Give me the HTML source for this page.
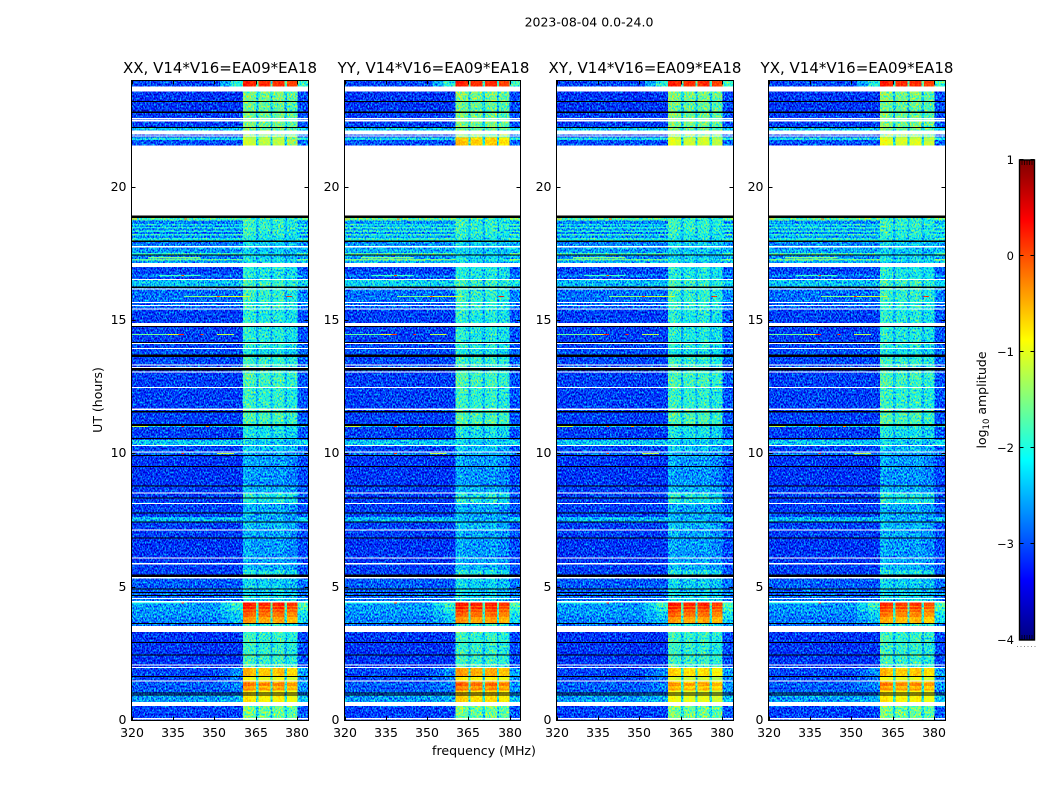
<!DOCTYPE html>
<html lang="en">
<head>
<meta charset="utf-8">
<title>2023-08-04 0.0-24.0 amplitude waterfall</title>
<style>
  html, body { margin: 0; padding: 0; background: #fff; }
  body { width: 1050px; height: 800px; overflow: hidden; }
  svg { display: block; }
  text { font-family: "DejaVu Sans", "Liberation Sans", sans-serif; fill: #000; }
</style>
</head>
<body>
<svg id="figure" xmlns="http://www.w3.org/2000/svg" width="1050" height="800" viewBox="0 0 1050 800">
  <defs>
    <filter id="grain-weak-signal" x="0" y="0" width="100%" height="100%" color-interpolation-filters="sRGB">
      <feTurbulence type="fractalNoise" baseFrequency="0.66 0.5" numOctaves="2" seed="7" result="noise"/>
      <feColorMatrix in="noise" type="matrix" values="2 0 0 0 -0.5  2 0 0 0 -0.5  2 0 0 0 -0.5  0 0 0 0 1" result="speck"/>
      <feComposite in="SourceGraphic" in2="speck" operator="arithmetic" k1="0" k2="1" k3="0.3" k4="-0.15" result="levels"/>
      <feComponentTransfer in="levels">
        <feFuncR class="jet-r" type="table"/>
        <feFuncG class="jet-g" type="table"/>
        <feFuncB class="jet-b" type="table"/>
      </feComponentTransfer>
    </filter>
    <filter id="grain-strong-signal" x="0" y="0" width="100%" height="100%" color-interpolation-filters="sRGB">
      <feTurbulence type="fractalNoise" baseFrequency="0.66 0.5" numOctaves="2" seed="11" result="noise"/>
      <feColorMatrix in="noise" type="matrix" values="2 0 0 0 -0.5  2 0 0 0 -0.5  2 0 0 0 -0.5  0 0 0 0 1" result="speck"/>
      <feComposite in="SourceGraphic" in2="speck" operator="arithmetic" k1="0" k2="1" k3="0.08" k4="-0.04" result="levels"/>
      <feComponentTransfer in="levels">
        <feFuncR class="jet-r" type="table"/>
        <feFuncG class="jet-g" type="table"/>
        <feFuncB class="jet-b" type="table"/>
      </feComponentTransfer>
    </filter>
    <linearGradient id="jet-gradient" x1="0" y1="1" x2="0" y2="0"></linearGradient>
  </defs>
  <rect x="0" y="0" width="1050" height="800" fill="#fff"/>
  <text x="589" y="26.5" font-size="12.5" text-anchor="middle">2023-08-04 0.0-24.0</text>
  <text transform="translate(102,400) rotate(-90)" font-size="12.5" text-anchor="middle">UT (hours)</text>
  <text x="484" y="755" font-size="12.6" text-anchor="middle">frequency (MHz)</text>
  <text transform="translate(986,400) rotate(-90)" font-size="12.5" text-anchor="middle">log<tspan font-size="8.5" dy="3">10</tspan><tspan dy="-3"> amplitude</tspan></text>
  <g id="panels"></g>
  <g id="colorbar"></g>
</svg>
<script>
// ---- chart data (log10 amplitude, hours, MHz) ----
const panelTitles = ["XX, V14*V16=EA09*EA18", "YY, V14*V16=EA09*EA18", "XY, V14*V16=EA09*EA18", "YX, V14*V16=EA09*EA18"];
const xTicks = [320, 335, 350, 365, 380];
const yTicks = [0, 5, 10, 15, 20];
const colorbarTicks = [-4, -3, -2, -1, 0, 1];

// channel groups: edges in MHz, zone (0 out of band, 5 ramp, 1 band edge, 2 in band, 4 notch, 3 upper edge), level offset
const freqEdges = [320, 330, 340, 352, 356, 360.4, 363, 365.1, 365.9, 368, 370.2, 371, 373, 375.4, 376.2, 378, 380, 384];
const channelZones = [0, 0, 0, 5, 1, 2, 2, 4, 2, 2, 4, 2, 2, 4, 2, 2, 3];
const channelOffsets = [0, 0.02, 0, 0, 0, 0.12, 0.02, 0, 0, 0, 0, -0.02, 0.05, 0, -0.1, -0.1, 0.12];

// [hour from, hour to, out-of-band level, in-band level, band-edge level (optional)]
const timeRows = [
  [23.775, 24, -3.05, 0.15, -2.0],
  [23.23, 23.775, -3.15, -1.55],
  [22.84, 23.23, -3.15, -1.65],
  [22.5, 22.84, -3.1, -1.6],
  [22.26, 22.5, -3.1, -1.55],
  [22.125, 22.26, -2.4, -1.6],
  [21.86, 22.125, -3.05, -1.45],
  [21.76, 21.86, -2.2, -1.25],
  [21.56, 21.76, -3.0, -1.2],
  [18.75, 18.9, -1.8, -1.85],
  [18.625, 18.75, -2.75, -1.95],
  [18.56, 18.625, -2.2, -1.9],
  [18.5, 18.56, -2.7, -1.95],
  [18.45, 18.5, -2.1, -1.9],
  [18.375, 18.45, -2.7, -1.95],
  [18.31, 18.375, -2.1, -1.95],
  [18.25, 18.31, -2.8, -2.0],
  [18.19, 18.25, -2.0, -2.0],
  [18.09, 18.19, -2.7, -2.05],
  [18.0, 18.09, -2.1, -2.1],
  [17.81, 18.0, -2.8, -2.3],
  [17.525, 17.81, -2.65, -2.35],
  [17.475, 17.525, -1.9, -2.2],
  [17.31, 17.475, -2.75, -2.3],
  [17.25, 17.31, -1.7, -2.05],
  [17.0, 17.25, -2.6, -2.3],
  [16.725, 17.0, -3.05, -2.1],
  [16.64, 16.725, -2.75, -2.1],
  [16.54, 16.64, -3.05, -2.1],
  [16.225, 16.54, -2.4, -1.9],
  [15.69, 16.225, -2.85, -1.95],
  [15.45, 15.69, -2.9, -2.0],
  [14.9, 15.45, -3.1, -2.05],
  [14.19, 14.9, -3.1, -2.05],
  [13.96, 14.19, -3.05, -2.05],
  [13.725, 13.96, -3.0, -2.15],
  [13.35, 13.725, -3.05, -1.95],
  [13.05, 13.35, -3.05, -1.95],
  [12.5, 13.05, -3.1, -1.85],
  [11.69, 12.5, -3.1, -1.95],
  [11.1, 11.69, -3.1, -1.8],
  [11.0, 11.1, -2.3, -2.0],
  [10.6, 11.0, -3.1, -2.15],
  [10.51, 10.6, -3.05, -2.2],
  [10.34, 10.51, -2.35, -2.3],
  [10.09, 10.34, -3.05, -2.4],
  [9.95, 10.09, -2.85, -2.55],
  [9.54, 9.95, -3.15, -2.6],
  [8.81, 9.54, -3.15, -2.65],
  [8.55, 8.81, -3.1, -2.5],
  [8.15, 8.55, -3.1, -2.1],
  [7.8, 8.15, -3.1, -2.55],
  [7.64, 7.8, -3.05, -2.55],
  [7.46, 7.64, -2.45, -2.5],
  [7.16, 7.46, -3.1, -2.45],
  [6.86, 7.16, -3.1, -2.55],
  [6.11, 6.86, -3.15, -2.6],
  [5.85, 6.11, -3.15, -2.55],
  [5.64, 5.85, -3.1, -2.5],
  [5.375, 5.64, -3.1, -2.1],
  [4.94, 5.375, -2.95, -2.3],
  [4.7, 4.94, -2.9, -2.3],
  [4.44, 4.7, -2.85, -2.2],
  [4.3, 4.44, -2.6, 0.2, -1.9],
  [4.25, 4.3, -2.6, -0.1, -1.8],
  [4.19, 4.25, -2.6, 0.15, -2.1],
  [4.12, 4.19, -2.6, -0.15, -1.9],
  [4.06, 4.12, -2.6, 0.0, -2.2],
  [3.875, 4.06, -2.65, -0.2, -2.3],
  [3.65, 3.875, -2.75, -0.45, -2.4],
  [3.54, 3.65, -2.85, -2.0],
  [2.95, 3.54, -3.15, -1.9],
  [2.46, 2.95, -3.15, -1.95],
  [2.0, 2.46, -3.15, -1.9],
  [1.675, 2.0, -3.05, -0.6, -2.7],
  [1.5, 1.675, -3.05, -1.0, -2.8],
  [1.4, 1.5, -3.0, -0.5, -2.8],
  [1.3, 1.4, -2.9, -0.25, -2.7],
  [1.2, 1.3, -3.0, -0.55, -2.8],
  [1.125, 1.2, -2.9, -0.35, -2.7],
  [0.94, 1.125, -2.9, -0.85],
  [0.69, 0.94, -2.6, -0.85, -2.5],
  [0.46, 0.69, -3.05, -1.55],
  [0, 0.46, -3.1, -1.6]
];

// [hour from, hour to, base offset per panel x4, in-band offset per panel x4]
const panelAdjustments = [
  [21.56, 21.94, 0, 0, 0, 0, 0, 0.55, 0.1, 0.15],
  [17.0, 19.0, 0, 0.15, 0.05, 0.1, 0, 0, 0, 0],
  [16.225, 16.54, 0, 0.12, -0.05, 0, 0, 0, 0, 0],
  [3.65, 4.44, 0, 0, 0, -0.05, 0, 0.02, 0, -0.1],
  [0.69, 2.0, 0, 0, 0, 0, 0, 0.12, -0.15, -0.02]
];

// [hour from, hour to, MHz from, MHz to, level]
const hotStreaks = [
  [18.79, 18.83, 339, 340, -0.1],
  [18.79, 18.83, 320, 322, -0.6],
  [17.33, 17.38, 326, 345, -1.5],
  [16.67, 16.71, 330, 345, -1.8],
  [16.67, 16.71, 338, 339, 0.1],
  [15.88, 15.92, 339, 350, -1.5],
  [15.88, 15.92, 350, 363, -1.1],
  [15.88, 15.92, 351, 352, 0],
  [15.88, 15.92, 376, 378, 0.2],
  [14.45, 14.49, 320, 333, -1.6],
  [14.45, 14.49, 333, 337, -1.0],
  [14.45, 14.49, 337, 339, 0.2],
  [14.45, 14.49, 345, 346, 0.1],
  [14.45, 14.49, 351, 357, -1.2],
  [11.01, 11.05, 320, 326, -1.2],
  [11.01, 11.05, 338, 339, 0],
  [11.01, 11.05, 347, 348, -0.5],
  [9.99, 10.03, 338, 339, 0.2],
  [9.99, 10.03, 351, 357, -1.2],
  [4.38, 4.42, 320, 340, -2.0],
  [4.38, 4.42, 338, 339, 0.1]
];

// flagged time ranges: no data (white) and zero amplitude (black)
const whiteGaps = [
  [23.59, 23.775], [22.54, 22.59], [22.47, 22.51], [21.975, 22.125], [21.9, 21.94], [18.94, 21.56],
  [17.74, 17.8], [17.0, 17.15], [16.54, 16.56], [16.16, 16.2], [15.66, 15.69], [15.54, 15.575], [15.41, 15.45],
  [14.79, 14.9], [14.12, 14.16], [13.925, 13.96], [13.31, 13.35], [13.225, 13.26], [13.05, 13.09], [12.475, 12.51],
  [11.65, 11.7], [10.29, 10.325], [10.05, 10.09], [8.51, 8.55], [8.11, 8.15], [7.125, 7.16], [6.075, 6.11],
  [5.85, 5.9], [5.325, 5.375], [4.55, 4.59], [4.425, 4.475], [3.31, 3.54], [2.06, 2.1], [1.96, 2.0], [1.46, 1.5],
  [0.55, 0.69], [0.04, 0.09]
];
const blackGaps = [
  [23.19, 23.23], [22.78, 22.84], [22.22, 22.26], [18.85, 18.94], [17.95, 18.0], [17.44, 17.47], [16.225, 16.275],
  [14.75, 14.79], [14.16, 14.2], [13.625, 13.725], [13.125, 13.215], [11.55, 11.6], [11.05, 11.11], [10.56, 10.6],
  [9.91, 9.95], [9.5, 9.54], [8.775, 8.81], [8.325, 8.36], [7.76, 7.8], [7.425, 7.46], [6.825, 6.86], [5.375, 5.475],
  [4.91, 4.95], [4.8, 4.825], [4.66, 4.7], [3.61, 3.66], [2.91, 2.95], [2.44, 2.475], [1.64, 1.675], [1.01, 1.05], [0.94, 0.975]
];

// ---- layout ----
const SVG_NS = "http://www.w3.org/2000/svg";
const panelLefts = [131.5, 344.5, 556.5, 768.5];
const panelRights = [308.5, 520.5, 733.5, 945.5];
const plotTop = 80.5, plotBottom = 720.5;
const freqMin = 320, freqMax = 384, hourMin = 0, hourMax = 24;
const levelMin = -4, levelMax = 1;
const strongSignalLevel = -1.3;
const cbLeft = 1019.5, cbRight = 1034.5, cbTop = 160, cbBottom = 640;

function xScale(panel, mhz) {
  return panelLefts[panel] + (mhz - freqMin) / (freqMax - freqMin) * (panelRights[panel] - panelLefts[panel]);
}
function yScale(hour) {
  return plotBottom - (hour - hourMin) / (hourMax - hourMin) * (plotBottom - plotTop);
}
function cbScale(level) {
  return cbBottom - (level - levelMin) / (levelMax - levelMin) * (cbBottom - cbTop);
}
function clamp01(v) { return Math.max(0, Math.min(1, v)); }
function levelFraction(level) {
  return clamp01((level - levelMin) / (levelMax - levelMin));
}
function jetChannels(t) {
  return [
    clamp01(Math.min(4 * t - 1.5, -4 * t + 4.5)),
    clamp01(Math.min(4 * t - 0.5, -4 * t + 3.5)),
    clamp01(Math.min(4 * t + 0.5, -4 * t + 2.5))
  ];
}
function jet(level) {
  const c = jetChannels(levelFraction(level));
  return "rgb(" + Math.round(c[0] * 255) + "," + Math.round(c[1] * 255) + "," + Math.round(c[2] * 255) + ")";
}
// cells carry the level as grey; the SVG filter adds grain and then applies the jet table
function levelGrey(level) {
  const v = Math.round(levelFraction(level) * 255);
  return "rgb(" + v + "," + v + "," + v + ")";
}
function el(tag, attrs, parent) {
  const node = document.createElementNS(SVG_NS, tag);
  for (const key in attrs) node.setAttribute(key, attrs[key]);
  parent.appendChild(node);
  return node;
}
function installJetTables() {
  const names = ["jet-r", "jet-g", "jet-b"];
  names.forEach(function (name, channel) {
    const values = [];
    for (let i = 0; i <= 8; i++) values.push(jetChannels(i / 8)[channel].toFixed(4));
    document.querySelectorAll("." + name).forEach(function (node) {
      node.setAttribute("tableValues", values.join(" "));
    });
  });
}
function adjustment(panel, midHour) {
  let base = 0, inband = 0;
  for (const a of panelAdjustments) {
    if (midHour >= a[0] && midHour < a[1]) {
      base += a[2 + panel];
      inband += a[6 + panel];
    }
  }
  return { base: base, inband: inband };
}
function channelLevel(row, col, adj) {
  const zone = channelZones[col];
  const base = row[2] + adj.base;
  const inband = row[3] + adj.inband;
  const edge = row[4] !== undefined ? row[4] : base;
  let source = base;
  if (zone === 2) source = inband;
  else if (zone === 4) source = 0.3 * inband - 1.85;
  else if (zone === 1 || zone === 3) source = edge;
  else if (zone === 5) source = (base + edge) / 2;
  return source + channelOffsets[col];
}

function drawPanel(panel) {
  const root = document.getElementById("panels");
  const group = el("g", {}, root);
  
  

  const heat = el("g", { filter: "url(#grain-weak-signal)", "shape-rendering": "crispEdges" }, group);
  
  
  const heatStrong = el("g", { filter: "url(#grain-strong-signal)", "shape-rendering": "crispEdges" }, group);
  
  

  el("rect", {
    x: xScale(panel, freqMin), y: yScale(hourMax),
    width: xScale(panel, freqMax) - xScale(panel, freqMin),
    height: yScale(hourMin) - yScale(hourMax), fill: levelGrey(-3.1)
  }, heat);

  for (const row of timeRows) {
    const adj = adjustment(panel, (row[0] + row[1]) / 2);
    for (let col = 0; col < channelZones.length; col++) {
      const level = channelLevel(row, col, adj);
      const cell = el("rect", {
        x: xScale(panel, freqEdges[col]),
        y: yScale(row[1]),
        width: xScale(panel, freqEdges[col + 1]) - xScale(panel, freqEdges[col]),
        height: yScale(row[0]) - yScale(row[1]),
        fill: levelGrey(level)
      }, level > strongSignalLevel ? heatStrong : heat);
      
      
    }
  }
  for (const s of hotStreaks) {
    const streak = el("rect", {
      x: xScale(panel, s[2]), y: yScale(s[1]),
      width: xScale(panel, s[3]) - xScale(panel, s[2]),
      height: Math.max(1, yScale(s[0]) - yScale(s[1])),
      fill: levelGrey(s[4])
    }, heatStrong);
    
    
  }

  const gaps = el("g", { "shape-rendering": "crispEdges" }, group);
  
  
  const drawGap = function (gap, colour, name) {
    const h = yScale(gap[0]) - yScale(gap[1]);
    const rect = el("rect", {
      x: xScale(panel, freqMin), y: yScale(gap[1]),
      width: xScale(panel, freqMax) - xScale(panel, freqMin),
      height: Math.max(1, h), fill: colour
    }, gaps);
    
    
  };
  for (const gap of blackGaps) drawGap(gap, "#000", "zero-amplitude-gap");
  for (const gap of whiteGaps) drawGap(gap, "#fff", "no-data-gap");

  const frame = el("rect", {
    x: panelLefts[panel], y: plotTop,
    width: panelRights[panel] - panelLefts[panel], height: plotBottom - plotTop,
    fill: "none", stroke: "#000", "stroke-width": 1
  }, group);
  
  

  for (const tick of xTicks) {
    const x = Math.round(xScale(panel, tick)) + 0.5;
    const t1 = el("path", { d: "M" + x + " " + plotBottom + "v-4M" + x + " " + plotTop + "v4", stroke: "#000", fill: "none" }, group);
    
    
    const label = el("text", { x: x - 0.5, y: 737, "font-size": 12.5, "text-anchor": "middle" }, group);
    label.textContent = String(tick);
    
    
  }
  for (const tick of yTicks) {
    const y = Math.round(yScale(tick) - 0.5) + 0.5;
    const left = panelLefts[panel], right = panelRights[panel];
    const t2 = el("path", { d: "M" + left + " " + y + "h4M" + right + " " + y + "h-4", stroke: "#000", fill: "none" }, group);
    
    
    const label = el("text", { x: left - 5, y: y + 3.5, "font-size": 12.5, "text-anchor": "end" }, group);
    label.textContent = String(tick);
    
    
  }
  const title = el("text", {
    x: (panelLefts[panel] + panelRights[panel]) / 2 + (panel === 1 ? 1 : 0),
    y: 73, "font-size": 15, "text-anchor": "middle"
  }, group);
  title.textContent = panelTitles[panel];
  
  
}

function drawColorbar() {
  const group = document.getElementById("colorbar");
  const gradient = document.getElementById("jet-gradient");
  for (let i = 0; i <= 32; i++) {
    const level = levelMin + (levelMax - levelMin) * i / 32;
    el("stop", { offset: (i / 32 * 100) + "%", "stop-color": jet(level) }, gradient);
  }
  const bar = el("rect", {
    x: cbLeft, y: cbScale(levelMax), width: cbRight - cbLeft,
    height: cbScale(levelMin) - cbScale(levelMax),
    fill: "url(#jet-gradient)", stroke: "#000", "stroke-width": 1.4
  }, group);
  
  

  for (const tick of colorbarTicks) {
    const y = Math.round(cbScale(tick)) - 0.5;
    const mark = el("path", { d: "M" + cbLeft + " " + y + "h4M" + cbRight + " " + y + "h-4", stroke: "#000", fill: "none" }, group);
    
    
    const label = el("text", { x: 1014, y: cbScale(tick) + 4, "font-size": 11.5, "text-anchor": "end" }, group);
    label.textContent = tick < 0 ? "\u2212" + Math.abs(tick) : String(tick);
    
    
  }
  for (let i = 0; i < 5; i++) {
    const x = cbLeft + 2.5 * (i + 1);
    const minor = el("path", { d: "M" + x + " " + cbTop + "v5M" + x + " " + cbBottom + "v-5", stroke: "#000", "stroke-width": 0.7, fill: "none" }, group);
    
    
  }
  const dots = el("line", { x1: 1017, x2: 1036, y1: 646.5, y2: 646.5, stroke: "#888", "stroke-dasharray": "1 2.5" }, group);
  
  
}

installJetTables();
for (let p = 0; p < panelTitles.length; p++) drawPanel(p);
drawColorbar();
</script>
</body>
</html>
